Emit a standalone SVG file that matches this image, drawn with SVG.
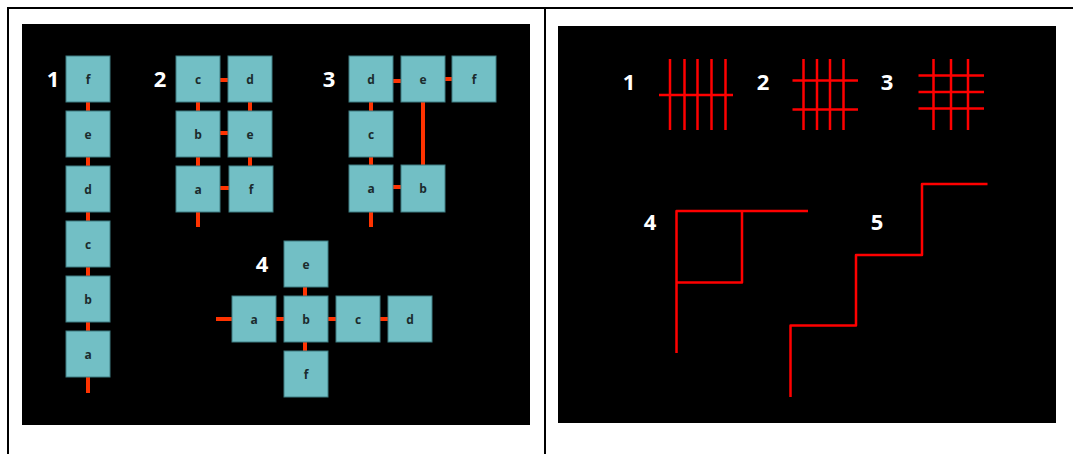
<svg xmlns="http://www.w3.org/2000/svg" width="1073" height="454" viewBox="0 0 1073 454">
<style>
.box{fill:#72BFC5;stroke:#3E7C82;stroke-width:1}
.bl{font-family:"Open Sans","Liberation Sans",sans-serif;font-weight:bold;font-size:12px;fill:#1B2B2D;text-anchor:middle;dominant-baseline:central}
.num{font-family:"Open Sans","Liberation Sans",sans-serif;font-weight:bold;font-size:22px;fill:#FFFFFF;text-anchor:middle;dominant-baseline:central}
.cn{stroke:#FF3300;stroke-width:4;fill:none}
.rl{stroke:#FF0000;stroke-width:2.5;fill:none;stroke-linejoin:round}
</style>
<rect width="1073" height="454" fill="#FFFFFF"/>
<g id="frame">
<line x1="7" y1="8" x2="1073" y2="8" stroke="#000" stroke-width="2"/>
<line x1="8" y1="7" x2="8" y2="454" stroke="#000" stroke-width="2"/>
<line x1="545" y1="7" x2="545" y2="454" stroke="#000" stroke-width="2"/>
<rect x="22" y="24" width="508" height="401" fill="#000"/>
<rect x="558" y="26" width="498" height="397" fill="#000"/>
</g>
<g id="connectors">
<line class="cn" x1="88" y1="102" x2="88" y2="111"/>
<line class="cn" x1="88" y1="157" x2="88" y2="166"/>
<line class="cn" x1="88" y1="212" x2="88" y2="221"/>
<line class="cn" x1="88" y1="267" x2="88" y2="276"/>
<line class="cn" x1="88" y1="322" x2="88" y2="331"/>
<line class="cn" x1="88" y1="377" x2="88" y2="393"/>
<line class="cn" x1="198" y1="102" x2="198" y2="111"/>
<line class="cn" x1="198" y1="157" x2="198" y2="166"/>
<line class="cn" x1="198" y1="212" x2="198" y2="227"/>
<line class="cn" x1="250" y1="102" x2="250" y2="111"/>
<line class="cn" x1="250" y1="157" x2="250" y2="166"/>
<line class="cn" x1="220" y1="80" x2="228" y2="80"/>
<line class="cn" x1="220" y1="133" x2="228" y2="133"/>
<line class="cn" x1="220" y1="188" x2="229" y2="188"/>
<line class="cn" x1="393" y1="81" x2="401" y2="81"/>
<line class="cn" x1="445" y1="79" x2="452" y2="79"/>
<line class="cn" x1="371" y1="102" x2="371" y2="111"/>
<line class="cn" x1="371" y1="157" x2="371" y2="165"/>
<line class="cn" x1="371" y1="212" x2="371" y2="227"/>
<line class="cn" x1="423" y1="102" x2="423" y2="165"/>
<line class="cn" x1="393" y1="187" x2="401" y2="187"/>
<line class="cn" x1="216" y1="319" x2="232" y2="319"/>
<line class="cn" x1="276" y1="319" x2="284" y2="319"/>
<line class="cn" x1="328" y1="319" x2="336" y2="319"/>
<line class="cn" x1="380" y1="319" x2="388" y2="319"/>
<line class="cn" x1="305" y1="287" x2="305" y2="296"/>
<line class="cn" x1="305" y1="342" x2="305" y2="351"/>
</g>
<g id="labels-left">
<text class="num" x="53" y="78">1</text>
<text class="num" x="160" y="78">2</text>
<text class="num" x="329" y="78">3</text>
<text class="num" x="262" y="263">4</text>
</g>
<g id="g1-f"><rect class="box" x="66" y="56" width="44" height="46"/><text class="bl" x="88" y="79">f</text></g>
<g id="g1-e"><rect class="box" x="66" y="111" width="44" height="46"/><text class="bl" x="88" y="134">e</text></g>
<g id="g1-d"><rect class="box" x="66" y="166" width="44" height="46"/><text class="bl" x="88" y="189">d</text></g>
<g id="g1-c"><rect class="box" x="66" y="221" width="44" height="46"/><text class="bl" x="88" y="244">c</text></g>
<g id="g1-b"><rect class="box" x="66" y="276" width="44" height="46"/><text class="bl" x="88" y="299">b</text></g>
<g id="g1-a"><rect class="box" x="66" y="331" width="44" height="46"/><text class="bl" x="88" y="354">a</text></g>

<g id="g2-c"><rect class="box" x="176" y="56" width="44" height="46"/><text class="bl" x="198" y="79">c</text></g>
<g id="g2-b"><rect class="box" x="176" y="111" width="44" height="46"/><text class="bl" x="198" y="134">b</text></g>
<g id="g2-a"><rect class="box" x="176" y="166" width="44" height="46"/><text class="bl" x="198" y="189">a</text></g>
<g id="g2-d"><rect class="box" x="228" y="56" width="44" height="46"/><text class="bl" x="250" y="79">d</text></g>
<g id="g2-e"><rect class="box" x="228" y="111" width="44" height="46"/><text class="bl" x="250" y="134">e</text></g>
<g id="g2-f"><rect class="box" x="229" y="166" width="44" height="46"/><text class="bl" x="251" y="189">f</text></g>

<g id="g3-d"><rect class="box" x="349" y="56" width="44" height="46"/><text class="bl" x="371" y="79">d</text></g>
<g id="g3-e"><rect class="box" x="401" y="56" width="44" height="46"/><text class="bl" x="423" y="79">e</text></g>
<g id="g3-f"><rect class="box" x="452" y="56" width="44" height="46"/><text class="bl" x="474" y="79">f</text></g>
<g id="g3-c"><rect class="box" x="349" y="111" width="44" height="46"/><text class="bl" x="371" y="134">c</text></g>
<g id="g3-a"><rect class="box" x="349" y="165" width="44" height="47"/><text class="bl" x="371" y="188">a</text></g>
<g id="g3-b"><rect class="box" x="401" y="165" width="44" height="47"/><text class="bl" x="423" y="188">b</text></g>

<g id="g4-e"><rect class="box" x="284" y="241" width="44" height="46"/><text class="bl" x="306" y="264">e</text></g>
<g id="g4-a"><rect class="box" x="232" y="296" width="44" height="46"/><text class="bl" x="254" y="319">a</text></g>
<g id="g4-b"><rect class="box" x="284" y="296" width="44" height="46"/><text class="bl" x="306" y="319">b</text></g>
<g id="g4-c"><rect class="box" x="336" y="296" width="44" height="46"/><text class="bl" x="358" y="319">c</text></g>
<g id="g4-d"><rect class="box" x="388" y="296" width="44" height="46"/><text class="bl" x="410" y="319">d</text></g>
<g id="g4-f"><rect class="box" x="284" y="351" width="44" height="46"/><text class="bl" x="306" y="374">f</text></g>

<g id="labels-right">
<text class="num" x="629" y="81">1</text>
<text class="num" x="763" y="81">2</text>
<text class="num" x="887" y="81">3</text>
<text class="num" x="650" y="221">4</text>
<text class="num" x="877" y="221">5</text>
</g>
<g id="grid1">
<line class="rl" x1="670" y1="59" x2="670" y2="130"/>
<line class="rl" x1="684.5" y1="59" x2="684.5" y2="130"/>
<line class="rl" x1="697.5" y1="59" x2="697.5" y2="130"/>
<line class="rl" x1="711.5" y1="59" x2="711.5" y2="130"/>
<line class="rl" x1="725.5" y1="59" x2="725.5" y2="130"/>
<line class="rl" x1="659" y1="95" x2="733" y2="95"/>
</g>
<g id="grid2">
<line class="rl" x1="803.5" y1="59" x2="803.5" y2="130"/>
<line class="rl" x1="817" y1="59" x2="817" y2="130"/>
<line class="rl" x1="830" y1="59" x2="830" y2="130"/>
<line class="rl" x1="843.5" y1="59" x2="843.5" y2="130"/>
<line class="rl" x1="792.5" y1="80.5" x2="858" y2="80.5"/>
<line class="rl" x1="792.5" y1="109.5" x2="858" y2="109.5"/>
</g>
<g id="grid3">
<line class="rl" x1="933.5" y1="59" x2="933.5" y2="130"/>
<line class="rl" x1="951" y1="59" x2="951" y2="130"/>
<line class="rl" x1="968" y1="59" x2="968" y2="130"/>
<line class="rl" x1="918.5" y1="75.5" x2="984" y2="75.5"/>
<line class="rl" x1="918.5" y1="92" x2="984" y2="92"/>
<line class="rl" x1="918.5" y1="108.5" x2="984" y2="108.5"/>
</g>
<g id="shape4">
<polyline class="rl" points="676.5,353 676.5,211 808,211"/>
<polyline class="rl" points="742,211 742,282.5 676.5,282.5"/>
</g>
<g id="shape5">
<polyline class="rl" points="790.5,397 790.5,325.5 856,325.5 856,255 922,255 922,184 987.5,184"/>
</g>
</svg>
